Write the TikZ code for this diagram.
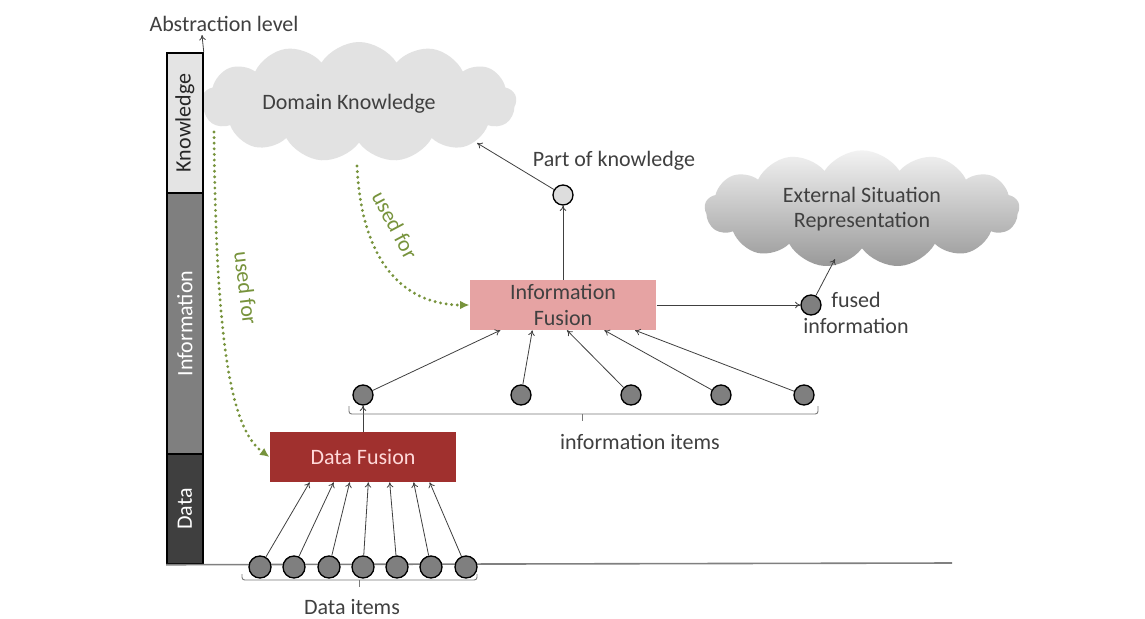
\documentclass[tikz,border=0pt]{standalone}
\usepackage{fontspec}
\setmainfont{Carlito}
\usetikzlibrary{shapes.symbols,arrows.meta}
\definecolor{txt}{HTML}{404040}
\definecolor{lin}{HTML}{404040}
\definecolor{kn}{HTML}{DDDDDD}
\definecolor{inf}{HTML}{7F7F7F}
\definecolor{dat}{HTML}{3F3F3F}
\definecolor{dfus}{HTML}{A0302E}
\definecolor{ifus}{HTML}{E6A3A3}
\definecolor{grn}{HTML}{77933C}
\tikzset{
  lbl/.style={font=\fontsize{16.5}{19}\selectfont, text=txt, inner sep=0pt},
  seg/.style={draw=black, line width=1.3pt, minimum width=27pt, inner sep=0pt, anchor=north west, font=\fontsize{16.5}{19}\selectfont},
  conn/.style={draw=lin, line width=0.6pt, -{To[length=4pt,width=5pt]}},
  item/.style={circle, draw=black, line width=1pt, fill=inf, minimum size=15pt, inner sep=0pt},
  fusbox/.style={rectangle, minimum width=140pt, minimum height=37.5pt, inner sep=0pt, align=center, font=\fontsize{16.5}{19}\selectfont},
  usedfor/.style={draw=grn, line width=2.4pt, dash pattern=on 0pt off 4.2pt, line cap=round, -{Latex[length=7pt,width=6.5pt,line cap=butt]}},
  brace/.style={draw=lin!70, line width=0.7pt, rounded corners=2pt},
  cloudnode/.style={cloud, cloud puffs=13, cloud puff arc=115, cloud ignores aspect, inner sep=0pt, align=center, font=\fontsize{16.5}{19}\selectfont, text=txt}
}
\begin{document}
\begin{tikzpicture}[x=0.75pt,y=-0.75pt]
\useasboundingbox (0,0) rectangle (1145,618);
\fill[white] (0,0) rectangle (1145,618);

% clouds
\node[cloudnode, fill=kn!85!white, minimum width=236pt, minimum height=90pt] (dk) at (359,102) {};
\node[lbl] (dkt) at (349,104) {Domain Knowledge};
\node[cloudnode, top color=gray!10, bottom color=gray!80, minimum width=236pt, minimum height=88pt] (es) at (862,209) {External Situation\\Representation};

% axis bar
\node[seg, fill=kn!80!white, minimum height=105pt] (kseg) at (166,52) {};
\node[seg, fill=inf, minimum height=196pt] (iseg) at (166,192) {};
\node[seg, fill=dat, minimum height=82.5pt] (dseg) at (166,453) {};
\node[lbl, rotate=90, text=black!85] (kl) at (kseg.center) {Knowledge};
\node[lbl, rotate=90, text=white] (il) at (iseg.center) {Information};
\node[lbl, rotate=90, text=white] (dl) at (dseg.center) {Data};
\coordinate (axtop) at (202,35);
\coordinate (axend) at (952,563);
\draw[conn] (kseg.north east) -- (axtop);
\draw[draw=gray, line width=1.2pt] (dseg.south west) -- (axend);
\node[lbl] (abs) at (224,24) {Abstraction level};

% fusion boxes
\node[fusbox, fill=ifus, text=txt] (if) at (563,305) {Information\\Fusion};
\node[fusbox, fill=dfus, text=red!15!white] (df) at (363,457) {Data Fusion};

% part of knowledge
\node[item, fill=kn] (pk) at (563,195) {};
\node[lbl] (pkl) at (614,161) {Part of knowledge};
\coordinate (dkin) at (477,143);
\draw[conn] (if.north) -- (pk);
\draw[conn] (pk) -- (dkin);

% fused information
\node[item] (fi) at (811,305) {};
\node[lbl, align=center] (fil) at (856,313) {fused\\information};
\coordinate (esin) at (835,259);
\draw[conn] (if.east) -- (fi);
\draw[conn] (fi) -- (esin);

% information items
\foreach \i/\x in {1/363,2/521,3/631,4/721,5/804}{
  \node[item] (ii\i) at (\x,395) {};
}
\draw[conn] (ii1) -- ([xshift=-47pt]if.south);
\draw[conn] (ii2) -- ([xshift=-23pt]if.south);
\draw[conn] (ii3) -- ([xshift=3pt]if.south);
\draw[conn] (ii4) -- ([xshift=31pt]if.south);
\draw[conn] (ii5) -- ([xshift=54pt]if.south);
\draw[conn] (df.north) -- (ii1);
\draw[brace] (349,406) -- (349,414) -- (818,414) -- (818,406);
\draw[brace, rounded corners=0pt] (582,414) -- (582,421);
\node[lbl] (iil) at (640,442) {information items};

% data items
\foreach \i/\x/\s in {1/260/-40,2/294/-22,3/329/-10,4/363/4,5/397/20,6/431/38,7/466/50}{
  \node[item, minimum size=16.5pt] (d\i) at (\x,567) {};
  \draw[conn] (d\i) -- ([xshift=\s pt]df.south);
}
\draw[brace] (242,574) -- (242,580) -- (477,580) -- (477,574);
\draw[brace, rounded corners=0pt] (359,580) -- (359,587);
\node[lbl] (dil) at (352,607) {Data items};

% used for
\coordinate (u1s) at (214,132);
\coordinate (u2s) at (357,166);
\draw[usedfor] (u1s) .. controls (216,350) and (232,430) .. (df.west);
\draw[usedfor] (u2s) .. controls (362,270) and (410,305) .. (if.west);
\node[lbl, text=grn, rotate=-83] (uf1) at (246,288) {used for};
\node[lbl, text=grn, rotate=-62] (uf2) at (395,225) {used for};
\end{tikzpicture}
\end{document}
